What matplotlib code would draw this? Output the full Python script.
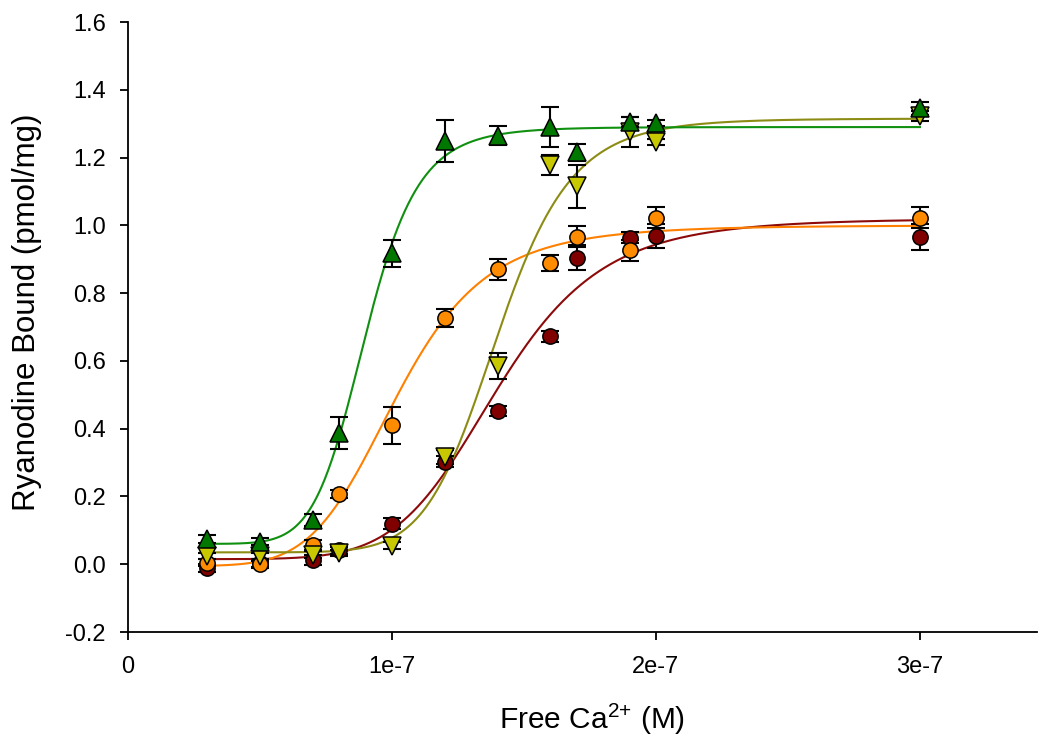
import numpy as np
import matplotlib
matplotlib.use("Agg")
import matplotlib.pyplot as plt

plt.rcParams['font.family'] = ['Liberation Sans', 'DejaVu Sans']
plt.rcParams['mathtext.fontset'] = 'custom'
plt.rcParams['mathtext.rm'] = 'Liberation Sans'
plt.rcParams['mathtext.it'] = 'Liberation Sans'

# Free Ca2+ (M)
ca = np.array([3, 5, 7, 8, 10, 12, 14, 16, 17, 19, 20, 30]) * 1e-8

# Series: dark red circles
red_y = [-0.012, 0.003, 0.013, 0.041, 0.12, 0.303, 0.452, 0.672, 0.904, 0.963, 0.968, 0.966]
red_err = [0.012, 0.01, 0.015, 0.01, 0.015, 0.015, 0.015, 0.016, 0.037, 0.016, 0.035, 0.038]
# orange circles
orange_y = [0.005, 0.0, 0.056, 0.207, 0.41, 0.727, 0.87, 0.888, 0.967, 0.926, 1.022, 1.022]
orange_err = [0.01, 0.01, 0.015, 0.012, 0.055, 0.026, 0.031, 0.024, 0.032, 0.03, 0.031, 0.031]
# yellow down-triangles
yellow_y = [0.024, 0.024, 0.028, 0.033, 0.055, 0.317, 0.585, 1.178, 1.115, 1.275, 1.246, 1.322]
yellow_err = [0.01, 0.01, 0.01, 0.01, 0.01, 0.02, 0.037, 0.03, 0.064, 0.044, 0.01, 0.015]
# green up-triangles
green_y = [0.074, 0.066, 0.13, 0.386, 0.917, 1.25, 1.265, 1.29, 1.215, 1.305, 1.302, 1.345]
green_err = [0.012, 0.01, 0.017, 0.047, 0.04, 0.062, 0.027, 0.058, 0.025, 0.015, 0.01, 0.02]

# Hill-fit parameters: bottom, top, K (M), n
red_fit = [0.015, 1.02, 14.0e-8, 7.0]
orange_fit = [-0.005, 1.0, 10.2e-8, 6.0]
yellow_fit = [0.035, 1.315, 14.0e-8, 10.0]
green_fit = [0.06, 1.29, 9.0e-8, 9.0]

x_ticks = [0, 1e-7, 2e-7, 3e-7]
x_ticklabels = ['0', '1e-7', '2e-7', '3e-7']
y_ticks = [-0.2, 0.0, 0.2, 0.4, 0.6, 0.8, 1.0, 1.2, 1.4, 1.6]

series = [
    (red_y, red_err, red_fit, 'o', '#800000', '#8c0a0a'),
    (orange_y, orange_err, orange_fit, 'o', '#ff8c00', '#ff8000'),
    (yellow_y, yellow_err, yellow_fit, 'v', '#c8c800', '#8c8c14'),
    (green_y, green_err, green_fit, '^', '#007800', '#109010'),
]

fig = plt.figure(figsize=(10.4, 7.36), dpi=100)
ax = fig.add_axes([0.123, 0.1413, 0.874, 0.8288])

xc = np.linspace(ca[0], ca[-1], 600)
for y, err, fit, mk, fc, lc in series:
    b, t, k, n = fit
    yc = b + (t - b) * xc**n / (xc**n + k**n)
    ax.plot(xc, yc, color=lc, lw=1.5, zorder=2)
for y, err, fit, mk, fc, lc in series:
    ax.errorbar(ca, y, yerr=err, fmt='none', ecolor='black', elinewidth=1.5,
                capsize=6.5, capthick=1.5, zorder=3)
    ax.plot(ca, y, linestyle='none', marker=mk, markersize=11 if mk == 'o' else 12.5,
            markerfacecolor=fc, markeredgecolor='black', markeredgewidth=1.1, zorder=4)

ax.set_xlim(0, 3.443e-7)
ax.set_ylim(-0.2, 1.6)
ax.set_xticks(x_ticks)
ax.set_xticklabels(x_ticklabels)
ax.set_yticks(y_ticks)
ax.set_yticklabels([f'{v:.1f}' for v in y_ticks])
for s in ['top', 'right']:
    ax.spines[s].set_visible(False)
for s in ['left', 'bottom']:
    ax.spines[s].set_linewidth(1.3)
ax.tick_params(direction='out', length=6, width=1.3, labelsize=17)
ax.tick_params(axis='y', pad=10)
ax.tick_params(axis='x', pad=11)
ax.set_xlabel(r'Free Ca$^{2\text{+}}$ (M)', fontsize=21.5)
ax.set_ylabel('Ryanodine Bound (pmol/mg)', fontsize=22.5)
ax.xaxis.set_label_coords(0.511, -0.115)
ax.yaxis.set_label_coords(-0.095, 0.525)

fig.savefig('out.png', dpi=100)
